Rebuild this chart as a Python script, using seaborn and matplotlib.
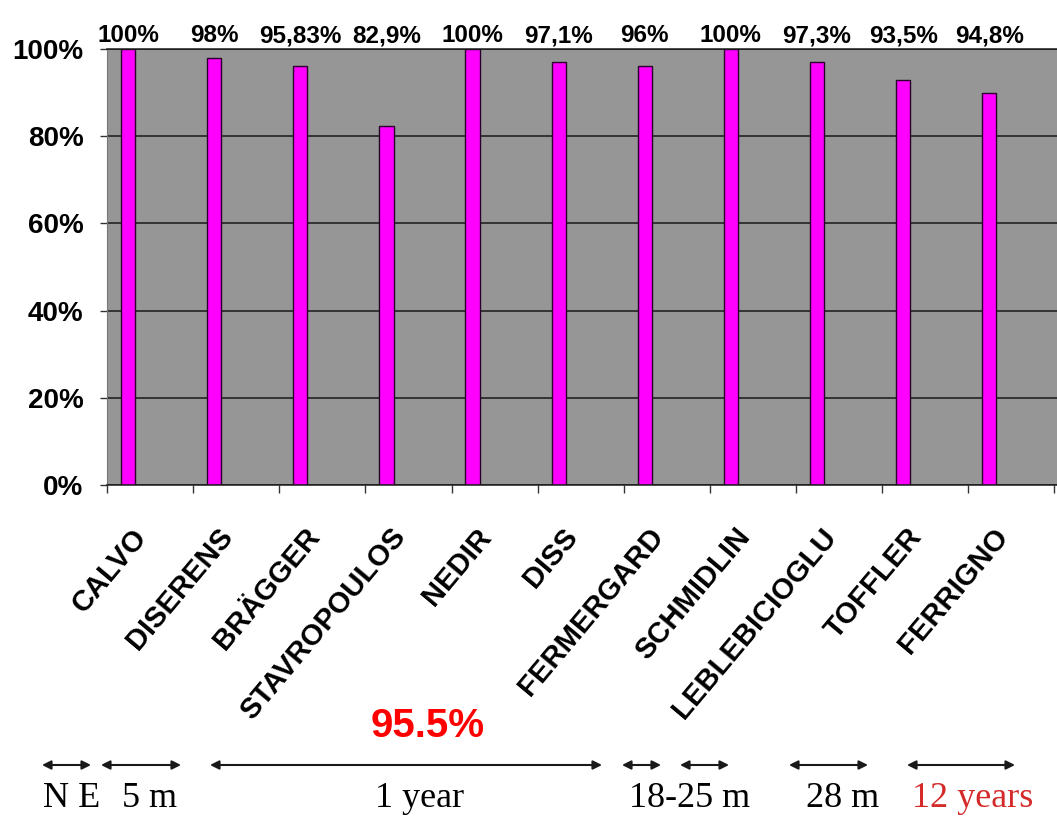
import matplotlib
matplotlib.use("Agg")
import matplotlib.pyplot as plt
import matplotlib.transforms as mtransforms
import seaborn as sns
import pandas as pd
import numpy as np

# ---- data ----
authors = ["CALVO", "DISERENS", "BRÄGGER", "STAVROPOULOS", "NEDIR", "DISS",
           "FERMERGARD", "SCHMIDLIN", "LEBLEBICIOGLU", "TOFFLER", "FERRIGNO"]
bar_values = [100, 98, 96, 82.4, 100, 97, 96, 100, 97, 92.9, 90]
value_labels = ["100%", "98%", "95,83%", "82,9%", "100%", "97,1%", "96%",
                "100%", "97,3%", "93,5%", "94,8%"]
y_ticks = [0, 20, 40, 60, 80, 100]
y_tick_labels = ["0%", "20%", "40%", "60%", "80%", "100%"]
overall_label = "95.5%"
span_labels = ["N E", "5 m", "1 year", "18-25 m", "28 m", "12 years"]

# ---- layout (figure pixels) ----
W, H = 1057, 816
arrow_spans = [(42, 91), (101, 181), (210, 602), (622, 661), (680, 729), (789, 868), (907, 1015)]
span_label_x = [72, 150, 420, 690, 843, 973]
span_label_colors = ["black", "black", "black", "black", "black", "#d42a2a"]

sns.set_theme(style="white")
plt.rcParams["font.family"] = ["Liberation Sans", "DejaVu Sans"]
plt.rcParams["text.color"] = "black"
plt.rcParams["xtick.color"] = "black"
plt.rcParams["ytick.color"] = "black"

fig = plt.figure(figsize=(W / 100, H / 100), dpi=100)
ax = fig.add_axes([107 / W, 1 - 485 / H, (W - 107) / W, (485 - 49) / H])

df = pd.DataFrame({"author": authors, "value": bar_values})
sns.barplot(data=df, x="author", y="value", ax=ax, width=0.165,
            color="#ff00ff", edgecolor="#2a002a", linewidth=1.0, saturation=1)

# shift bars to the left inside each category (as in the original chart)
shift = -0.256
for p in ax.patches:
    p.set_x(p.get_x() + shift)

ax.set_facecolor("#969696")
ax.set_xlim(-0.5, 10.53)
ax.set_ylim(0, 100)
ax.set_xlabel("")
ax.set_ylabel("")

ax.set_yticks(y_ticks)
ax.yaxis.grid(True, color="#1a1a1a", linewidth=1.1)
ax.xaxis.grid(False)
ax.set_axisbelow(True)

ax.set_yticklabels(y_tick_labels, fontsize=20, fontweight="bold", color="black")
ax.tick_params(axis="y", which="major", direction="out", length=5, width=1,
               color="#333333", pad=12, left=True)

ax.set_xticks(range(len(authors)))
ax.set_xticklabels(authors, fontsize=21, fontweight="bold", rotation=50,
                   ha="right", va="center", rotation_mode="anchor", color="black")
ax.tick_params(axis="x", which="major", length=0, pad=0)
off = mtransforms.ScaledTranslation(-8 / 100, -47 / 100, fig.dpi_scale_trans)
for lab in ax.get_xticklabels():
    lab.set_transform(lab.get_transform() + off)
ax.set_xticks(np.arange(-0.5, len(authors), 1.0), minor=True)
ax.tick_params(axis="x", which="minor", direction="out", length=6, width=1,
               color="#333333", bottom=True)

ax.spines["right"].set_visible(False)
for side in ["top", "bottom"]:
    ax.spines[side].set_color("#1a1a1a")
    ax.spines[side].set_linewidth(1.1)
ax.spines["left"].set_color("#777777")
ax.spines["left"].set_linewidth(0.8)

blend = mtransforms.blended_transform_factory(ax.transData, ax.transAxes)
lab_off = mtransforms.ScaledTranslation(0, 7 / 100, fig.dpi_scale_trans)
for i, txt in enumerate(value_labels):
    ax.text(i + shift, 1.0, txt, transform=blend + lab_off, ha="center",
            va="baseline", fontsize=17.5, fontweight="bold", color="black",
            clip_on=False)

fig.text(428 / W, 1 - 737 / H, overall_label, ha="center", va="baseline",
         fontsize=29, fontweight="bold", color="#ff0000")

for x0, x1 in arrow_spans:
    ax.annotate("", xy=(x1, H - 765), xytext=(x0, H - 765),
                xycoords="figure pixels", textcoords="figure pixels",
                arrowprops=dict(arrowstyle="<|-|>", color="#1a1a1a", lw=1.5,
                                mutation_scale=13, shrinkA=0, shrinkB=0))
for txt, x, c in zip(span_labels, span_label_x, span_label_colors):
    fig.text(x / W, 9 / H, txt, ha="center", va="baseline", fontsize=26,
             family=["Liberation Serif", "DejaVu Serif"], color=c)

fig.savefig("out.png", dpi=100)
